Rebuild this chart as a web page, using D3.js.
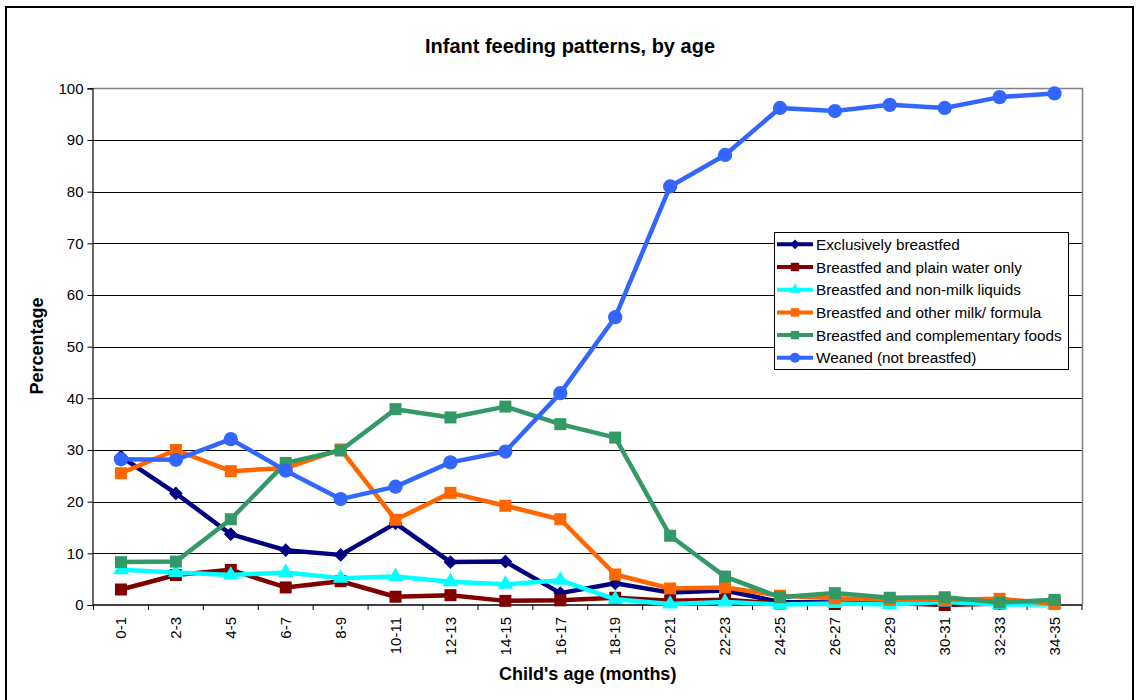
<!DOCTYPE html>
<html><head><meta charset="utf-8">
<script src="https://cdn.jsdelivr.net/npm/d3@7"></script>
<style>body{margin:0;background:#fff;}svg{display:block;font-family:"Liberation Sans",Arial,sans-serif;}</style>
</head><body><svg id="c" width="1136" height="700"></svg>
<script>
const categories = ["0-1","2-3","4-5","6-7","8-9","10-11","12-13","14-15","16-17","18-19","20-21","22-23","24-25","26-27","28-29","30-31","32-33","34-35"];
const yTicks = [0,10,20,30,40,50,60,70,80,90,100];
const exclusivelyBreastfed = [28.7,21.6,13.7,10.6,9.7,15.8,8.3,8.4,2.3,4.2,2.4,2.8,0.6,0.5,0.4,0.5,0.3,0.5];
const plainWater = [3.0,5.8,6.8,3.4,4.6,1.6,1.9,0.8,0.9,1.4,0.8,1.0,0.3,0.2,0.4,0.0,0.3,0.5];
const nonMilkLiquids = [6.8,6.3,5.8,6.3,5.2,5.5,4.5,4.0,4.8,1.1,0.2,0.6,0.1,0.3,0.1,0.6,0.1,0.1];
const otherMilk = [25.5,30.0,25.9,26.5,30.1,16.5,21.7,19.2,16.6,5.9,3.2,3.4,1.8,1.3,1.0,1.0,1.2,0.2];
const complementary = [8.3,8.4,16.6,27.5,29.9,37.9,36.3,38.4,35.0,32.4,13.4,5.5,1.5,2.3,1.4,1.5,0.5,1.0];
const weaned = [28.2,28.1,32.1,26.0,20.5,22.9,27.6,29.7,41.0,55.7,81.0,87.1,96.2,95.6,96.8,96.2,98.3,99.0];
const seriesNames = ["Exclusively breastfed","Breastfed and plain water only","Breastfed and non-milk liquids","Breastfed and other milk/ formula","Breastfed and complementary foods","Weaned (not breastfed)"];
const seriesColors = ["#000080","#800000","#00FFFF","#FF6600","#339966","#3366FF"];
const seriesMarkers = ["diamond","square","triangle","square","square","circle"];
const seriesValues = [exclusivelyBreastfed, plainWater, nonMilkLiquids, otherMilk, complementary, weaned];

const svg = d3.select("#c");
svg.append("rect").attr("x",6).attr("y",7).attr("width",1127).attr("height",700).attr("fill","none").attr("stroke","#000").attr("stroke-width",2);

const L=93.5, R=1082, T=88.3, B=605;
const x = d3.scaleBand().domain(categories).range([L,R]).padding(0);
const y = d3.scaleLinear().domain([0,100]).range([B,T]);

svg.append("g").selectAll("line").data(yTicks.filter(d=>d>0&&d<100)).join("line")
  .attr("x1",L-1).attr("x2",R).attr("y1",d=>Math.round(y(d))+0.5).attr("y2",d=>Math.round(y(d))+0.5)
  .attr("stroke","#000").attr("stroke-width",1);
svg.append("path").attr("d",`M${L-1},${Math.round(T)+0.5}H${R+0.5}V${B}`).attr("fill","none").attr("stroke","#808080").attr("stroke-width",1.5);

const yAxis = d3.axisLeft(y).tickValues(yTicks).tickSize(5).tickPadding(4).tickFormat(d3.format("d"));
const gy = svg.append("g").attr("transform",`translate(${L-1},0)`).call(yAxis);
gy.select(".domain").attr("stroke","#000").attr("stroke-width",1.2);
gy.selectAll(".tick line").attr("stroke","#000");
gy.selectAll("text").attr("font-size",15).attr("fill","#000").attr("font-family","Liberation Sans, Arial, sans-serif");

const boundaries = categories.map(c=>x(c)).concat([R]);
svg.append("line").attr("x1",L-1).attr("x2",R).attr("y1",B).attr("y2",B).attr("stroke","#404040").attr("stroke-width",1.8);
svg.append("g").selectAll("line").data(boundaries).join("line")
  .attr("x1",d=>d).attr("x2",d=>d).attr("y1",B).attr("y2",B+5).attr("stroke","#000");
const xAxis = d3.axisBottom(x).tickSize(0).tickPadding(0);
const gx = svg.append("g").attr("transform",`translate(0,${B})`).call(xAxis);
gx.select(".domain").remove();
gx.selectAll("text").attr("font-size",15).attr("fill","#000").attr("font-family","Liberation Sans, Arial, sans-serif")
  .attr("text-anchor","end").attr("dy","0.35em").attr("transform","translate(0,12) rotate(-90)").attr("x",0).attr("y",0);

const line = d3.line().x((d,i)=>x(categories[i])+x.bandwidth()/2).y(d=>y(d));
function sym(type, scale){
  const s = scale||1;
  if(type==="diamond") return d3.symbol(d3.symbolSquare, 95*s*s)();
  if(type==="square") return d3.symbol(d3.symbolSquare, 144*s*s)();
  if(type==="triangle") return d3.symbol(d3.symbolTriangle, 105*s*s)();
  return d3.symbol(d3.symbolCircle, 160*s*s)();
}
seriesValues.forEach((vals,k)=>{
  const g = svg.append("g");
  g.append("path").datum(vals).attr("d",line).attr("fill","none").attr("stroke",seriesColors[k]).attr("stroke-width",4.5).attr("stroke-linejoin","round");
  g.selectAll("path.m").data(vals).join("path").attr("class","m")
    .attr("d",sym(seriesMarkers[k]))
    .attr("transform",(d,i)=>`translate(${x(categories[i])+x.bandwidth()/2},${y(d)})`+(seriesMarkers[k]==="diamond"?" rotate(45)":""))
    .attr("fill",seriesColors[k]);
});

const lg = svg.append("g");
lg.append("rect").attr("x",774.5).attr("y",232.5).attr("width",294).attr("height",137).attr("fill","#fff").attr("stroke","#000").attr("stroke-width",1);
seriesNames.forEach((n,k)=>{
  const cy = 244.3 + k*22.7;
  lg.append("line").attr("x1",777).attr("x2",813).attr("y1",cy).attr("y2",cy).attr("stroke",seriesColors[k]).attr("stroke-width",4);
  lg.append("path").attr("d",sym(seriesMarkers[k],0.7)).attr("fill",seriesColors[k])
    .attr("transform",`translate(795,${cy})`+(seriesMarkers[k]==="diamond"?" rotate(45)":""));
  lg.append("text").attr("x",816).attr("y",cy).attr("dy","0.36em").attr("font-size",15.3).attr("fill","#000").text(n);
});

svg.append("text").attr("x",570).attr("y",53).attr("text-anchor","middle").attr("font-size",20).attr("font-weight","bold").text("Infant feeding patterns, by age");
svg.append("text").attr("x",(L+R)/2).attr("y",680).attr("text-anchor","middle").attr("font-size",18).attr("font-weight","bold").text("Child's age (months)");
svg.append("text").attr("transform",`translate(43,346) rotate(-90)`).attr("text-anchor","middle").attr("font-size",18).attr("font-weight","bold").text("Percentage");
</script></body></html>
